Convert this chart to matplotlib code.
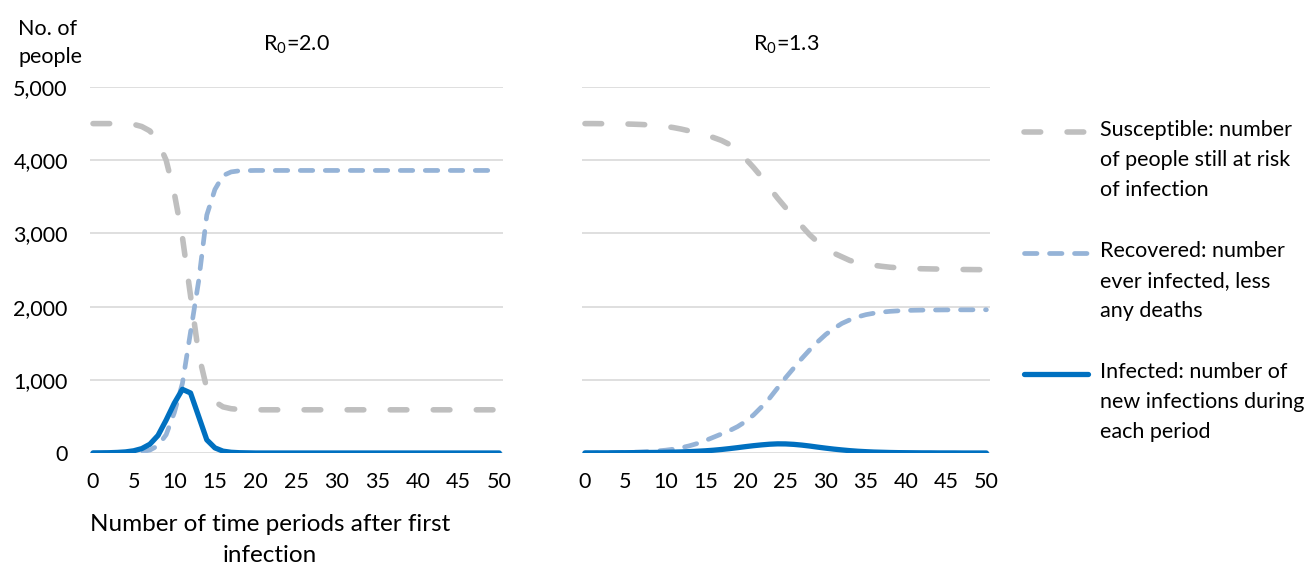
import matplotlib
matplotlib.use("Agg")
import matplotlib.pyplot as plt
from matplotlib.lines import Line2D

plt.rcParams['font.family'] = ['Lato', 'DejaVu Sans']
plt.rcParams['mathtext.fontset'] = 'custom'
plt.rcParams['mathtext.rm'] = 'Lato'
plt.rcParams['lines.scale_dashes'] = False

# time periods 0..50
periods = list(range(51))

# R0 = 2.0
susceptible_20 = [4500, 4500, 4500, 4499, 4497, 4490, 4460, 4400, 4250, 4000,
                  3550, 2950, 2150, 1350, 880, 700, 630, 605, 595, 592] + [590] * 31
recovered_20 = [0, 0, 1, 2, 4, 8, 18, 40, 100, 250,
                550, 950, 1650, 2350, 3250, 3600, 3790, 3840, 3855, 3858] + [3860] * 31
infected_20 = [1, 2, 4, 8, 15, 30, 60, 120, 240, 450,
               680, 870, 820, 500, 180, 70, 25, 10, 4, 2] + [0] * 31

# R0 = 1.3
susceptible_13 = [4500, 4500, 4499, 4498, 4497, 4495, 4492, 4488, 4482, 4474,
                  4462, 4446, 4425, 4400, 4375, 4345, 4310, 4270, 4215, 4140,
                  4020, 3900, 3770, 3620, 3480, 3350, 3220, 3100, 2980, 2880,
                  2800, 2730, 2680, 2630, 2600, 2580, 2565, 2550, 2538, 2530,
                  2524, 2520, 2517, 2515, 2513, 2511, 2509, 2507, 2506, 2505, 2504]
recovered_13 = [0, 1, 2, 3, 5, 7, 10, 14, 20, 28,
                38, 52, 72, 98, 130, 170, 215, 260, 305, 360,
                430, 520, 630, 750, 890, 1030, 1160, 1290, 1410, 1520,
                1620, 1700, 1770, 1820, 1860, 1890, 1910, 1925, 1935, 1942,
                1947, 1950, 1952, 1953, 1954, 1955, 1955, 1956, 1956, 1957, 1957]
infected_13 = [1, 1, 2, 2, 3, 4, 5, 6, 7, 8,
               10, 12, 15, 19, 24, 30, 38, 48, 60, 73,
               87, 100, 111, 120, 125, 124, 118, 108, 95, 80,
               66, 53, 42, 32, 24, 18, 13, 10, 7, 5,
               4, 3, 2, 2, 1, 1, 1, 0, 0, 0, 0]

titles = ["R$_\\mathrm{0}$=2.0", "R$_\\mathrm{0}$=1.3"]
x_ticks = list(range(0, 51, 5))
y_ticks = [0, 1000, 2000, 3000, 4000, 5000]
legend_labels = ["Susceptible: number\nof people still at risk\nof infection",
                 "Recovered: number\never infected, less\nany deaths",
                 "Infected: number of\nnew infections during\neach period"]

GREY = "#BFBFBF"
LBLUE = "#95B3D7"
BLUE = "#0070C0"
FS = 15.5

fig = plt.figure(figsize=(13.12, 5.65), dpi=100)
W, H = 1312, 565
ax1 = fig.add_axes([90 / W, 1 - 453 / H, 413 / W, 366 / H])
ax2 = fig.add_axes([582 / W, 1 - 453 / H, 408 / W, 366 / H])

styles = dict(
    s=dict(color=GREY, lw=4.0, dashes=(12, 19), dash_capstyle='round'),
    r=dict(color=LBLUE, lw=3.4, dashes=(9, 9), dash_capstyle='round'),
    i=dict(color=BLUE, lw=3.8, solid_capstyle='round', solid_joinstyle='round'),
)

data = [(susceptible_20, recovered_20, infected_20),
        (susceptible_13, recovered_13, infected_13)]

for ax, (s, r, i), title in zip([ax1, ax2], data, titles):
    ax.plot(periods, s, **styles['s'])
    ax.plot(periods, r, **styles['r'])
    ax.plot(periods, i, **styles['i'])
    ax.set_xlim(-0.37, 50.45)
    ax.set_ylim(0, 5000)
    ax.set_xticks(x_ticks)
    ax.set_yticks(y_ticks)
    ax.grid(axis='y', color='#D9D9D9', lw=1.2)
    ax.set_axisbelow(True)
    for sp in ax.spines.values():
        sp.set_visible(False)
    ax.tick_params(length=0, labelsize=FS, colors='black')
    ax.tick_params(axis='x', pad=14)
    ax.tick_params(axis='y', pad=16)
    ax.set_title(title, fontsize=FS, pad=26)

ax1.set_yticklabels([f"{v:,}" for v in y_ticks])
ax2.set_yticklabels([])

fig.text(18 / W, 1 - 43 / H, "No. of\npeople", fontsize=FS, ha='left', va='center',
         linespacing=1.5)
fig.text(270 / W, 1 - 540 / H, "Number of time periods after first\ninfection",
         fontsize=17.5, ha='center', va='center', linespacing=1.55)

# legend drawn by hand so each key lines up with the first text line
leg_y = [132, 253, 374]
for key, lab, y in zip(['s', 'r', 'i'], legend_labels, leg_y):
    st = dict(styles[key])
    fig.add_artist(Line2D([1024 / W, 1088 / W], [1 - y / H, 1 - y / H], **st))
    fig.text(1100 / W, 1 - (y - 12) / H, lab, fontsize=FS, ha='left', va='top',
             linespacing=1.63)

fig.savefig("out.png", dpi=100)
